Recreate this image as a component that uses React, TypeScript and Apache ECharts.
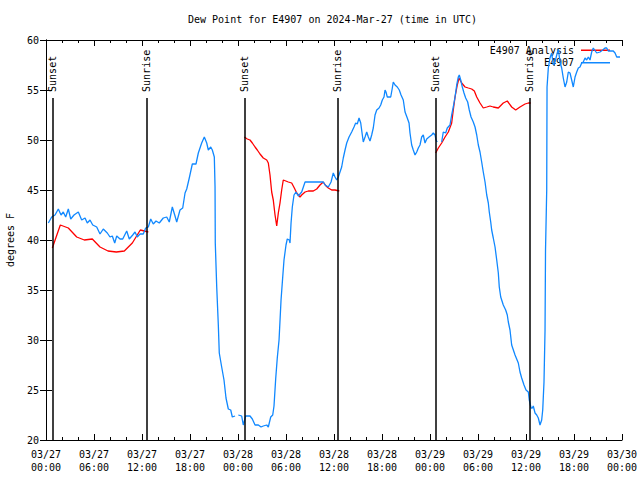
import React, { useEffect, useRef } from "react";
import * as echarts from "echarts";

// Time is in hours since 2024-03-27 00:00 UTC
const titleText = "Dew Point for E4907 on 2024-Mar-27 (time in UTC)";
const yAxisName = "degrees F";
const seriesNames = ["E4907 Analysis", "E4907"];

const sunEventHours = [0.79, 12.54, 24.79, 36.41, 48.66, 60.41];
const sunEventNames = ["Sunset", "Sunrise", "Sunset", "Sunrise", "Sunset", "Sunrise"];

const analysisNight1: [number, number][] = [
  [0.79, 39.2], [1.79, 41.5], [2.79, 41.2], [3.84, 40.3], [4.79, 40.0], [5.79, 40.1],
  [6.75, 39.3], [7.75, 38.9], [8.79, 38.8], [9.79, 38.9], [10.79, 39.7], [11.79, 41.0],
  [12.79, 40.8],
];

const analysisNight2: [number, number][] = [
  [24.79, 50.3], [25.16, 50.1], [25.5, 50.0], [25.79, 49.7], [26.13, 49.3], [26.41, 49.0],
  [26.75, 48.6], [27.16, 48.2], [27.59, 48.0], [27.79, 47.7], [28.0, 46.5], [28.21, 44.8],
  [28.41, 44.0], [28.63, 42.5], [28.84, 41.4], [29.04, 42.7], [29.25, 43.7], [29.46, 45.0],
  [29.66, 46.0], [30.29, 45.8], [30.71, 45.7], [31.04, 45.2], [31.34, 44.7], [31.75, 44.3],
  [31.96, 44.5], [32.38, 44.8], [32.79, 44.9], [33.41, 44.9], [33.84, 45.1], [34.25, 45.5],
  [34.66, 45.8], [35.0, 45.4], [35.29, 45.2], [35.71, 45.0], [36.13, 45.0], [36.66, 44.9],
];

const analysisNight3: [number, number][] = [
  [48.71, 48.7], [49.04, 49.2], [49.46, 49.7], [49.88, 50.3], [50.29, 50.8], [50.71, 51.7],
  [50.91, 53.0], [51.13, 54.3], [51.41, 55.5], [51.63, 56.2], [51.96, 55.7], [52.38, 55.3],
  [52.79, 55.2], [53.21, 55.1], [53.54, 54.9], [53.84, 54.3], [54.25, 53.7], [54.66, 53.2],
  [55.09, 53.3], [55.5, 53.4], [55.91, 53.3], [56.54, 53.2], [57.16, 53.7], [57.66, 53.9],
  [58.21, 53.3], [58.71, 53.0], [59.25, 53.3], [59.88, 53.6], [60.29, 53.7], [60.59, 53.7],
];

const observedDay1: [number, number][] = [
  [0.29, 41.7], [0.71, 42.3], [1.13, 42.5], [1.54, 43.1], [1.88, 42.5], [2.16, 42.8],
  [2.46, 42.3], [2.79, 43.1], [3.09, 42.1], [3.5, 42.5], [4.04, 42.8], [4.46, 42.0],
  [4.88, 42.2], [5.16, 41.7], [5.5, 42.0], [5.84, 41.5], [6.34, 41.3], [6.75, 40.6],
  [7.16, 41.1], [7.66, 40.7], [8.0, 40.3], [8.29, 40.4], [8.59, 39.7], [8.84, 40.4],
  [9.25, 40.1], [9.59, 40.1], [10.09, 40.9], [10.41, 40.1], [10.84, 40.5], [11.13, 40.8],
  [11.41, 40.3], [11.75, 40.6], [12.16, 40.6], [12.46, 41.2], [12.79, 41.3], [13.09, 42.1],
  [13.41, 41.6], [13.75, 41.9], [14.16, 41.7], [14.66, 42.2], [15.09, 42.3], [15.41, 41.8],
  [15.79, 43.3], [16.09, 42.5], [16.34, 41.8], [16.75, 43.0], [17.09, 43.2], [17.38, 44.7],
  [17.59, 45.1], [17.91, 46.2], [18.29, 47.6], [18.75, 47.6], [19.04, 48.7], [19.46, 49.7],
  [19.79, 50.3], [20.09, 49.7], [20.29, 49.0], [20.59, 49.3], [20.79, 49.0], [21.04, 48.3],
  [21.13, 45.3], [21.16, 39.7], [21.34, 35.3], [21.54, 31.5], [21.66, 28.7], [21.96, 27.3],
  [22.25, 26.0], [22.5, 24.2], [22.79, 23.1], [23.09, 23.0], [23.29, 22.3], [23.63, 22.4],
];

const observedDay2: [number, number][] = [
  [24.04, 22.5], [24.46, 22.4], [24.66, 21.5], [24.96, 22.4], [25.5, 22.4], [25.79, 22.1],
  [26.13, 21.5], [26.54, 21.5], [26.88, 21.3], [27.16, 21.4], [27.59, 21.5], [27.79, 21.3],
  [28.09, 22.3], [28.34, 22.5], [28.5, 23.4], [28.71, 26.1], [28.91, 28.2], [29.13, 30.0],
  [29.38, 34.0], [29.59, 36.3], [29.75, 38.0], [30.0, 39.5], [30.16, 40.1], [30.41, 40.0],
  [30.5, 39.7], [30.63, 41.7], [30.79, 43.3], [31.0, 44.5], [31.25, 44.8], [31.54, 44.4],
  [31.96, 44.8], [32.38, 45.8], [34.66, 45.8], [34.88, 45.5], [35.29, 45.3], [35.63, 45.8],
  [35.91, 46.7], [36.13, 46.3], [36.34, 46.0], [36.54, 46.3], [36.75, 46.8], [36.96, 47.3],
  [37.16, 48.2], [37.38, 49.0], [37.59, 49.7], [37.88, 50.3], [38.21, 50.8], [38.5, 51.3],
  [38.71, 51.7], [38.91, 51.6], [39.13, 52.2], [39.34, 51.7], [39.54, 50.5], [39.66, 49.8],
  [39.88, 50.3], [40.09, 50.8], [40.29, 50.3], [40.5, 49.9], [40.71, 50.5], [40.91, 51.2],
  [41.13, 52.5], [41.34, 53.0], [41.63, 53.2], [41.84, 53.5], [42.04, 54.0], [42.25, 54.3],
  [42.38, 55.0], [42.5, 54.8], [42.66, 54.3], [43.09, 54.3], [43.29, 55.2], [43.41, 55.8],
  [43.63, 55.5], [43.91, 55.3], [44.16, 55.0], [44.38, 54.5], [44.66, 54.0], [44.88, 52.8],
  [45.16, 52.2], [45.38, 51.7], [45.5, 50.7], [45.71, 49.5], [45.91, 49.0], [46.13, 48.5],
  [46.34, 48.8], [46.54, 49.2], [46.75, 49.5], [46.96, 50.3], [47.16, 50.5], [47.38, 49.7],
  [47.59, 50.1], [47.88, 50.3], [48.21, 50.5], [48.41, 50.7], [48.63, 50.5], [48.75, 50.0],
  [48.91, 49.8],
];

const observedDay3: [number, number][] = [
  [49.46, 49.8], [49.66, 50.8], [49.96, 50.7], [50.16, 51.2], [50.5, 51.5], [50.71, 52.5],
  [50.91, 53.3], [51.13, 54.3], [51.34, 55.5], [51.54, 56.3], [51.66, 56.5], [51.84, 56.0],
  [52.04, 55.3], [52.25, 54.7], [52.46, 54.2], [52.71, 53.8], [52.91, 53.0], [53.13, 52.3],
  [53.41, 51.8], [53.63, 51.3], [53.84, 50.5], [54.04, 49.5], [54.25, 48.8], [54.46, 47.8],
  [54.66, 46.8], [54.88, 45.8], [55.09, 44.5], [55.29, 43.7], [55.41, 42.8], [55.59, 41.8],
  [55.71, 41.0], [55.91, 40.2], [56.13, 39.3], [56.34, 38.0], [56.54, 36.7], [56.66, 35.3],
  [56.84, 34.3], [57.16, 33.5], [57.46, 33.0], [57.66, 32.5], [57.79, 31.8], [58.0, 31.0],
  [58.21, 29.5], [58.63, 28.5], [59.04, 27.7], [59.25, 26.8], [59.46, 26.2], [59.75, 25.5],
  [60.0, 25.0], [60.29, 24.8], [60.41, 24.0], [60.63, 23.2], [60.79, 23.2], [60.91, 23.4],
  [61.13, 22.7], [61.34, 22.5], [61.54, 22.2], [61.75, 21.5], [61.96, 22.0], [62.09, 23.0],
  [62.25, 25.8], [62.38, 31.0], [62.44, 39.0], [62.59, 45.0], [62.63, 55.3], [62.79, 57.2],
  [63.0, 58.2], [63.21, 58.7], [63.41, 57.5], [63.63, 57.8], [63.84, 58.5], [64.04, 59.1],
  [64.25, 57.8], [64.46, 57.2], [64.66, 56.2], [64.88, 55.3], [65.09, 55.8], [65.29, 56.8],
  [65.5, 56.7], [65.71, 56.0], [65.91, 55.3], [66.13, 56.3], [66.34, 56.8], [66.54, 57.2],
  [66.75, 57.3], [66.96, 57.7], [67.16, 57.8], [67.38, 58.2], [67.59, 58.0], [67.79, 58.3],
  [68.0, 58.0], [68.21, 58.8], [68.41, 59.2], [68.84, 58.7], [69.25, 58.8], [69.59, 59.0],
  [69.88, 59.2], [70.09, 59.2], [70.29, 58.9], [70.91, 58.9], [71.13, 58.7], [71.34, 58.3],
  [71.75, 58.3],
];

const X_MIN = 0;
const X_MAX = 72;
const X_STEP = 6;
const Y_MIN = 20;
const Y_MAX = 60;
const Y_STEP = 5;
const SUN_LINE_TOP = 54.2;
const SUN_LABEL_BASE = 54.8;

const FONT = "'DejaVu Sans Mono', 'Liberation Mono', monospace";

function fmtHour(h: number): string {
  const day = 27 + Math.floor(h / 24 + 1e-9);
  const hh = Math.round(h - (day - 27) * 24);
  const pad = (n: number) => (n < 10 ? "0" + n : "" + n);
  return "03/" + pad(day) + "\n" + pad(hh) + ":00";
}

export default function App() {
  const ref = useRef<HTMLDivElement>(null);
  useEffect(() => {
    if (!ref.current) return;
    const chart = echarts.init(ref.current, null, { renderer: "svg" });
    const blue = "#1088FF";
    const red = "#FF0000";
    const axisCommon = {
      axisLine: { show: true, lineStyle: { color: "#000", width: 1 } },
      splitLine: { show: false },
    };
    const option: any = {
      animation: false,
      backgroundColor: "#fff",
      title: {
        text: titleText,
        left: 183,
        top: 9,
        textStyle: { fontFamily: FONT, fontSize: 10, fontWeight: "normal", color: "#000" },
      },
      legend: {
        data: seriesNames.map((n) => ({ name: n, icon: "rect" })),
        orient: "vertical",
        right: 25,
        top: 39,
        align: "right",
        itemWidth: 29,
        itemHeight: 1.5,
        itemGap: 0,
        textStyle: { fontFamily: FONT, fontSize: 10, color: "#000", lineHeight: 12.5, padding: [0, 2, 0, 0] },
        selectedMode: false,
      },
      grid: { left: 46, right: 18, top: 40, bottom: 40, containLabel: false, outerBoundsMode: "none" },
      xAxis: [
        {
          type: "value",
          min: X_MIN,
          max: X_MAX,
          interval: X_STEP,
          ...axisCommon,
          axisTick: { show: true, inside: true, length: 6, lineStyle: { color: "#000" } },
          minorTick: { show: true, splitNumber: 3, length: 3, lineStyle: { color: "#000" } },
          axisLabel: {
            formatter: (v: number) => fmtHour(v),
            fontFamily: FONT,
            fontSize: 10,
            color: "#000",
            lineHeight: 13,
            margin: 8,
          },
        },
        {
          type: "value",
          position: "top",
          min: X_MIN,
          max: X_MAX,
          interval: X_STEP,
          ...axisCommon,
          axisTick: { show: true, inside: true, length: 6, lineStyle: { color: "#000" } },
          minorTick: { show: true, splitNumber: 3, length: 3, lineStyle: { color: "#000" } },
          axisLabel: { show: false },
        },
      ],
      yAxis: [
        {
          type: "value",
          min: Y_MIN,
          max: Y_MAX,
          interval: Y_STEP,
          ...axisCommon,
          name: yAxisName,
          nameLocation: "middle",
          nameGap: 31,
          nameRotate: 90,
          nameTextStyle: { fontFamily: FONT, fontSize: 10, color: "#000" },
          axisTick: { show: true, inside: true, length: 6, lineStyle: { color: "#000" } },
          axisLabel: { fontFamily: FONT, fontSize: 10, color: "#000", margin: 7 },
        },
        {
          type: "value",
          position: "right",
          min: Y_MIN,
          max: Y_MAX,
          interval: Y_STEP,
          ...axisCommon,
          axisTick: { show: true, inside: true, length: 6, lineStyle: { color: "#000" } },
          axisLabel: { show: false },
        },
      ],
      series: [
        ...[analysisNight1, analysisNight2, analysisNight3].map((d) => ({
          name: seriesNames[0],
          type: "line",
          data: d,
          symbol: "none",
          color: red,
          lineStyle: { color: red, width: 1.3 },
          z: 3,
        })),
        ...[observedDay1, observedDay2, observedDay3].map((d) => ({
          name: seriesNames[1],
          type: "line",
          data: d,
          symbol: "none",
          color: blue,
          lineStyle: { color: blue, width: 1.3 },
          z: 4,
        })),
        {
          name: "sun",
          type: "scatter",
          data: sunEventHours.map((h, i) => ({ value: [h, SUN_LABEL_BASE], name: sunEventNames[i] })),
          symbol: "circle",
          symbolSize: 0.1,
          itemStyle: { color: "#000" },
          label: {
            show: true,
            formatter: (p: any) => p.name,
            position: [0, 0],
            rotate: 90,
            align: "left",
            verticalAlign: "middle",
            fontFamily: FONT,
            fontSize: 10,
            color: "#000",
            textBorderWidth: 0,
            textBorderColor: "transparent",
            opacity: 1,
          },
          markLine: {
            silent: true,
            symbol: "none",
            label: { show: false },
            lineStyle: { color: "#000", width: 1.5, type: "solid" },
            data: sunEventHours.map((h) => [{ coord: [h, Y_MIN] }, { coord: [h, SUN_LINE_TOP] }]),
          },
          z: 5,
        },
      ],
    };
    chart.setOption(option);
    return () => chart.dispose();
  }, []);
  return (
    <div
      ref={ref}
      style={{ position: "fixed", left: 0, top: 0, width: 640, height: 480, background: "#fff" }}
    />
  );
}
